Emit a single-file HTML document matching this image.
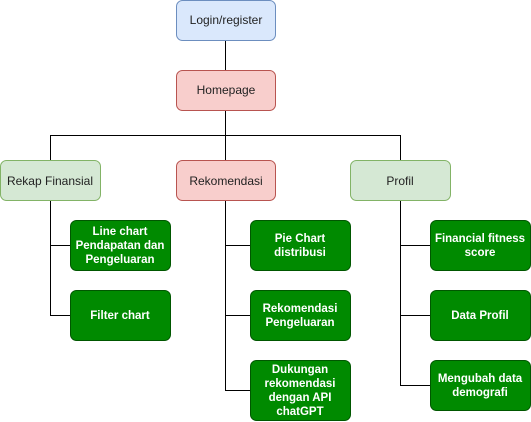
<!DOCTYPE html>
<html><head><style>
body{margin:0;width:531px;height:422px;background:#fff;font-family:"Liberation Sans",sans-serif;}
svg{display:block}
</style></head><body>
<svg width="531" height="422" xmlns="http://www.w3.org/2000/svg" font-family="Liberation Sans, sans-serif" font-size="12">
<g stroke="#000" fill="none" stroke-width="1">
<path d="M225.5 40V70M225.5 110V160M50.5 160V135.5H400.5V160"/>
<path d="M50.5 200V315.5H70M50.5 245.5H70"/>
<path d="M225.5 200V390.5H250M225.5 245.5H250M225.5 315.5H250"/>
<path d="M400.5 200V385.5H430M400.5 245.5H430M400.5 315.5H430"/>
</g>
<rect x="176.5" y="0.5" width="99" height="40" rx="6" fill="#dae8fc" stroke="#6c8ebf"/>
<rect x="176.5" y="70.5" width="99" height="40" rx="6" fill="#f8cecc" stroke="#b85450"/>
<rect x="0.5" y="160.5" width="100" height="40" rx="6" fill="#d5e8d4" stroke="#82b366"/>
<rect x="176.5" y="160.5" width="99" height="40" rx="6" fill="#f8cecc" stroke="#b85450"/>
<rect x="350.5" y="160.5" width="100" height="40" rx="6" fill="#d5e8d4" stroke="#82b366"/>
<g fill="#008a00" stroke="#005700">
<rect x="70.5" y="220.5" width="100" height="50" rx="6"/>
<rect x="70.5" y="290.5" width="100" height="50" rx="6"/>
<rect x="250.5" y="220.5" width="100" height="50" rx="6"/>
<rect x="250.5" y="290.5" width="100" height="50" rx="6"/>
<rect x="250.5" y="360.5" width="100" height="60" rx="6"/>
<rect x="430.5" y="220.5" width="100" height="50" rx="6"/>
<rect x="430.5" y="290.5" width="100" height="50" rx="6"/>
<rect x="430.5" y="360.5" width="100" height="50" rx="6"/>
</g>
<g fill="#222" text-anchor="middle">
<text x="226" y="24">Login/register</text>
<text x="226" y="94">Homepage</text>
<text x="50" y="185">Rekap Finansial</text>
<text x="226" y="185">Rekomendasi</text>
<text x="400" y="185">Profil</text>
</g>
<g fill="#fff" text-anchor="middle" font-weight="bold" font-size="11.5">
<text x="120" y="235">Line chart</text><text x="120" y="249">Pendapatan dan</text><text x="120" y="263">Pengeluaran</text>
<text x="120" y="319">Filter chart</text>
<text x="300" y="242">Pie Chart</text><text x="300" y="256">distribusi</text>
<text x="300" y="312">Rekomendasi</text><text x="300" y="326">Pengeluaran</text>
<text x="300" y="373">Dukungan</text><text x="300" y="387">rekomendasi</text><text x="300" y="401">dengan API</text><text x="300" y="415">chatGPT</text>
<text x="480" y="242">Financial fitness</text><text x="480" y="256">score</text>
<text x="480" y="319">Data Profil</text>
<text x="480" y="382">Mengubah data</text><text x="480" y="396">demografi</text>
</g>
</svg>
</body></html>
